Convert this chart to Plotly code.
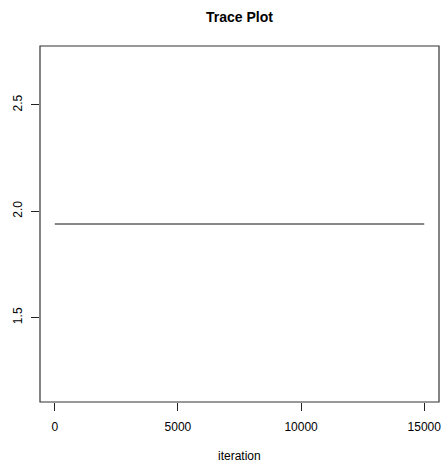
import plotly.graph_objects as go

# Data (a flat trace)
iterations = [1, 15000]
values = [1.94, 1.94]
x_ticks = [0, 5000, 10000, 15000]
y_ticks = [1.5, 2.0, 2.5]
y_tick_labels = ["1.5", "2.0", "2.5"]

font = "Liberation Sans, Arial, sans-serif"

fig = go.Figure()
fig.add_trace(go.Scatter(x=iterations, y=values, mode="lines",
                         line=dict(color="#111111", width=1),
                         showlegend=False, hoverinfo="skip"))

fig.update_layout(
    width=444, height=462,
    margin=dict(l=40, r=3, t=46, b=60),
    paper_bgcolor="white", plot_bgcolor="white",
    font=dict(family=font, size=12, color="#000000"),
    showlegend=False,
)

fig.update_xaxes(
    range=[-599, 15600], showgrid=False, zeroline=False,
    tickmode="array", tickvals=x_ticks, ticktext=[str(v) for v in x_ticks],
    ticks="outside", ticklen=8, tickwidth=1, tickcolor="#222222",
    ticklabelstandoff=6,
    showline=False, tickfont=dict(family=font, size=12, color="#000000"),
)
fig.update_yaxes(
    range=[1.103, 2.777], showgrid=False, zeroline=False,
    tickmode="array", tickvals=y_ticks, ticktext=y_tick_labels,
    ticks="outside", ticklen=8, tickwidth=1, tickcolor="#222222",
    tickangle=-90, ticklabelstandoff=4,
    showline=False, tickfont=dict(family=font, size=12, color="#000000"),
)

# Box around plotting region
fig.add_shape(type="rect", xref="paper", yref="paper", x0=0, y0=0, x1=1, y1=1,
              line=dict(color="#333333", width=1.2))

fig.add_annotation(text="<b>Trace Plot</b>", xref="paper", yref="paper",
                   x=0.5, y=1, yshift=39, showarrow=False,
                   font=dict(family=font, size=14, color="#000000"))
fig.add_annotation(text="iteration", xref="paper", yref="paper",
                   x=0.5, y=0, yshift=-63, showarrow=False,
                   font=dict(family=font, size=12, color="#000000"))

fig.write_html("out.html", config={"displayModeBar": False},
               post_script="document.body.style.margin='0';document.body.style.overflow='hidden';")
